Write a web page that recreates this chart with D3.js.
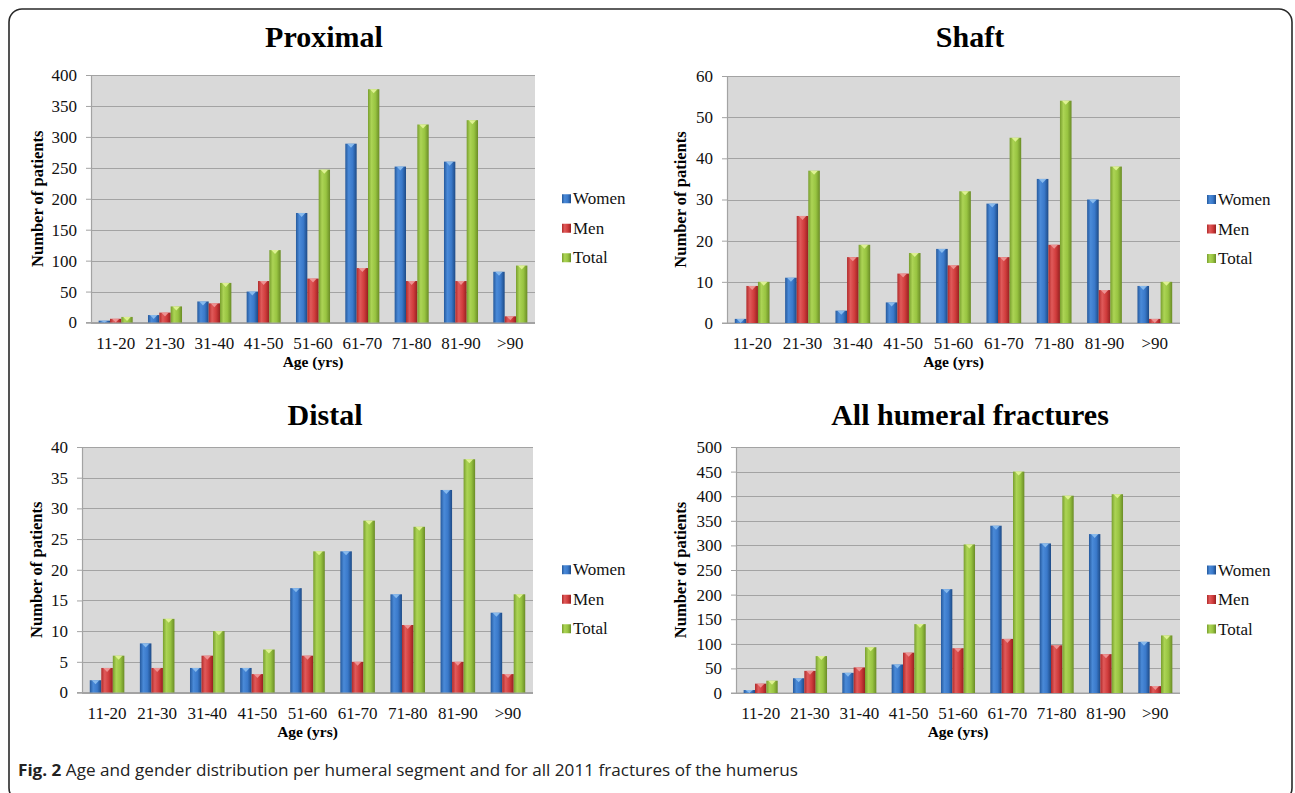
<!DOCTYPE html>
<html>
<head>
<meta charset="utf-8">
<script src="https://cdn.jsdelivr.net/npm/d3@7"></script>
<style>
  html, body { margin: 0; padding: 0; background: #fff; }
  svg { display: block; }
</style>
</head>
<body>
<svg id="chart" width="1295" height="793"></svg>
<script>
// ---------- DATA ----------
const categories = ["11-20", "21-30", "31-40", "41-50", "51-60", "61-70", "71-80", "81-90", ">90"];
const seriesNames = ["Women", "Men", "Total"];

const proximalWomen = [3, 12, 34, 50, 177, 289, 252, 260, 82];
const proximalMen   = [6, 16, 31, 67, 71, 88, 67, 67, 10];
const proximalTotal = [9, 26, 64, 117, 247, 377, 320, 327, 92];

const shaftWomen = [1, 11, 3, 5, 18, 29, 35, 30, 9];
const shaftMen   = [9, 26, 16, 12, 14, 16, 19, 8, 1];
const shaftTotal = [10, 37, 19, 17, 32, 45, 54, 38, 10];

const distalWomen = [2, 8, 4, 4, 17, 23, 16, 33, 13];
const distalMen   = [4, 4, 6, 3, 6, 5, 11, 5, 3];
const distalTotal = [6, 12, 10, 7, 23, 28, 27, 38, 16];

const allWomen = [6, 30, 41, 58, 211, 340, 304, 323, 104];
const allMen   = [19, 45, 52, 82, 91, 110, 97, 79, 14];
const allTotal = [25, 75, 93, 140, 302, 450, 401, 404, 117];

const proximalTicks = [0, 50, 100, 150, 200, 250, 300, 350, 400];
const shaftTicks = [0, 10, 20, 30, 40, 50, 60];
const distalTicks = [0, 5, 10, 15, 20, 25, 30, 35, 40];
const allTicks = [0, 50, 100, 150, 200, 250, 300, 350, 400, 450, 500];

const panelTitles = ["Proximal", "Shaft", "Distal", "All humeral fractures"];
const xAxisTitle = "Age (yrs)";
const yAxisTitle = "Number of patients";
const captionBold = "Fig. 2";
const captionText = " Age and gender distribution per humeral segment and for all 2011 fractures of the humerus";

// ---------- STYLE ----------
const serif = "'Liberation Serif', 'Times New Roman', serif";
const colors = {
  Women: { stops: ["#25599c", "#4a8ad8", "#3a79ca", "#1d4a86"], cap: "#8fc0f0" },
  Men:   { stops: ["#b02a2a", "#e05a5a", "#d03c3c", "#962020"], cap: "#f09a9a" },
  Total: { stops: ["#789e2e", "#acd455", "#98c441", "#6a8c26"], cap: "#e4f59a" }
};

const svg = d3.select("#chart");
const defs = svg.append("defs");
seriesNames.forEach(s => {
  const g = defs.append("linearGradient").attr("id", "grad-" + s)
    .attr("x1", "0%").attr("x2", "100%").attr("y1", "0%").attr("y2", "0%");
  const st = colors[s].stops;
  [[0, st[0]], [0.3, st[1]], [0.65, st[2]], [1, st[3]]].forEach(([o, c]) =>
    g.append("stop").attr("offset", o).attr("stop-color", c));
});

// Outer frame
svg.append("rect")
  .attr("x", 9).attr("y", 9).attr("width", 1283).attr("height", 792)
  .attr("rx", 13).attr("ry", 13)
  .attr("fill", "none").attr("stroke", "#2a2a2a").attr("stroke-width", 1.6);

const panels = [
  { title: panelTitles[0], data: [proximalWomen, proximalMen, proximalTotal], ticks: proximalTicks,
    left: 91, right: 535, top: 75, bottom: 322.5, titleX: 324, titleY: 47, yTitleX: 38, legendX: 562 },
  { title: panelTitles[1], data: [shaftWomen, shaftMen, shaftTotal], ticks: shaftTicks,
    left: 727, right: 1180, top: 76, bottom: 323, titleX: 970, titleY: 47, yTitleX: 681, legendX: 1207 },
  { title: panelTitles[2], data: [distalWomen, distalMen, distalTotal], ticks: distalTicks,
    left: 82, right: 533, top: 447, bottom: 692.5, titleX: 325, titleY: 425, yTitleX: 37, legendX: 562 },
  { title: panelTitles[3], data: [allWomen, allMen, allTotal], ticks: allTicks,
    left: 736, right: 1180, top: 447, bottom: 693, titleX: 970, titleY: 425, yTitleX: 681, legendX: 1207 }
];

panels.forEach(p => {
  const g = svg.append("g");
  const x0 = d3.scaleBand().domain(categories).range([p.left, p.right]).padding(0);
  const groupW = x0.bandwidth() * 0.69;
  const x1 = d3.scaleBand().domain(seriesNames).range([0, groupW]).padding(0);
  const yMax = p.ticks[p.ticks.length - 1];
  const y = d3.scaleLinear().domain([0, yMax]).range([p.bottom, p.top]);

  g.append("rect").attr("x", p.left).attr("y", p.top)
    .attr("width", p.right - p.left).attr("height", p.bottom - p.top)
    .attr("fill", "#d9d9d9");

  g.selectAll(".grid").data(p.ticks).join("line")
    .attr("x1", p.left).attr("x2", p.right)
    .attr("y1", d => Math.round(y(d)) + 0.5).attr("y2", d => Math.round(y(d)) + 0.5)
    .attr("stroke", "#a3a3a3").attr("stroke-width", 1.2);

  const yAxis = d3.axisLeft(y).tickValues(p.ticks).tickSize(5).tickPadding(9).tickFormat(d3.format("d"));
  const ya = g.append("g").attr("transform", `translate(${p.left},0)`).call(yAxis);
  ya.select(".domain").attr("stroke", "#a3a3a3").attr("stroke-width", 1.2);
  ya.selectAll(".tick line").attr("stroke", "#a3a3a3");
  ya.selectAll(".tick text").attr("font-family", serif).attr("font-size", 17).attr("fill", "#111");

  const xAxis = d3.axisBottom(x0).tickSize(0).tickPadding(14);
  const xa = g.append("g").attr("transform", `translate(0,${p.bottom})`).call(xAxis);
  xa.select(".domain").attr("stroke", "#a3a3a3").attr("stroke-width", 1.2)
    .attr("d", `M${p.left - 5},0H${p.right}`);
  xa.selectAll(".tick text").attr("font-family", serif).attr("font-size", 17).attr("fill", "#111");

  seriesNames.forEach((s, si) => {
    const vals = p.data[si];
    const bg = g.append("g");
    const bars = bg.selectAll("g").data(vals.map((v, i) => ({ cat: categories[i], v }))).join("g");
    bars.append("rect")
      .attr("x", d => x0(d.cat) + (x0.bandwidth() - groupW) / 2 + x1(s))
      .attr("y", d => y(d.v))
      .attr("width", x1.bandwidth())
      .attr("height", d => p.bottom - y(d.v))
      .attr("fill", `url(#grad-${s})`);
    bars.append("path")
      .attr("d", d => {
        const bx = x0(d.cat) + (x0.bandwidth() - groupW) / 2 + x1(s);
        const bw = x1.bandwidth();
        const top = y(d.v);
        const h = Math.min(4, (p.bottom - top));
        return `M${bx + 2},${top}L${bx + bw - 2},${top}L${bx + bw / 2},${top + h}Z`;
      })
      .attr("fill", colors[s].cap).attr("opacity", 0.9);
  });

  g.append("text").attr("x", p.titleX).attr("y", p.titleY)
    .attr("text-anchor", "middle").attr("font-family", serif)
    .attr("font-weight", "bold").attr("font-size", 30).attr("fill", "#000")
    .text(p.title);

  g.append("text").attr("x", (p.left + p.right) / 2).attr("y", p.bottom + 44)
    .attr("text-anchor", "middle").attr("font-family", serif)
    .attr("font-weight", "bold").attr("font-size", 15.5).attr("fill", "#000")
    .text(xAxisTitle);

  g.append("text")
    .attr("transform", `translate(${p.yTitleX + 5},${(p.top + p.bottom) / 2}) rotate(-90)`)
    .attr("text-anchor", "middle").attr("font-family", serif)
    .attr("font-weight", "bold").attr("font-size", 16.5).attr("fill", "#000")
    .text(yAxisTitle);

  const legendCenterY = (p.top + p.bottom) / 2 + 30;
  seriesNames.forEach((s, si) => {
    const cy = legendCenterY - 30 + si * 29.5;
    g.append("rect").attr("x", p.legendX).attr("y", cy - 4.5)
      .attr("width", 9).attr("height", 9).attr("fill", `url(#grad-${s})`);
    g.append("text").attr("x", p.legendX + 11).attr("y", cy + 5.5)
      .attr("font-family", serif).attr("font-size", 17).attr("fill", "#111")
      .text(s);
  });
});

// caption (condensed sans to mimic the journal font)
const cap = svg.append("text").attr("x", 18).attr("y", 776)
  .attr("font-family", "'Open Sans', 'Noto Sans', sans-serif").attr("font-size", 16.5).attr("fill", "#222")
  .attr("textLength", 780).attr("lengthAdjust", "spacingAndGlyphs");
cap.append("tspan").attr("font-weight", "bold").text(captionBold);
cap.append("tspan").text(captionText);
</script>
</body>
</html>
